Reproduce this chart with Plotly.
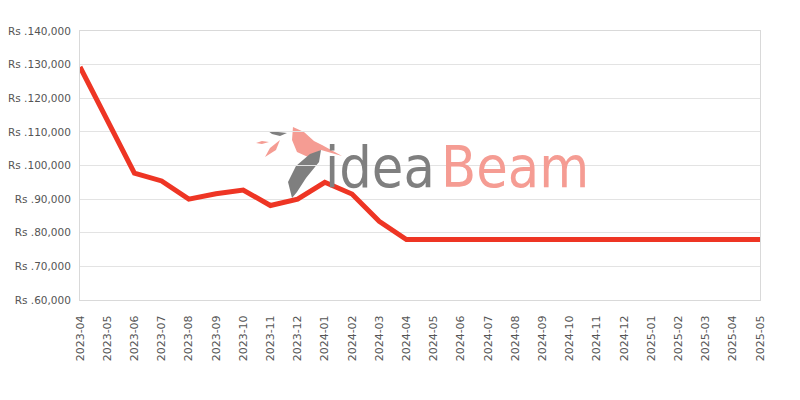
import plotly.graph_objects as go

months = ["2023-04", "2023-05", "2023-06", "2023-07", "2023-08", "2023-09", "2023-10",
          "2023-11", "2023-12", "2024-01", "2024-02", "2024-03", "2024-04", "2024-05",
          "2024-06", "2024-07", "2024-08", "2024-09", "2024-10", "2024-11", "2024-12",
          "2025-01", "2025-02", "2025-03", "2025-04", "2025-05"]
prices = [129300, 113500, 97700, 95400, 90000, 91600, 92700,
          88100, 90000, 95000, 91500, 83400, 78000, 78000,
          78000, 78000, 78000, 78000, 78000, 78000, 77700,
          78000, 78000, 78000, 78000, 78000]
y_ticks = [60000, 70000, 80000, 90000, 100000, 110000, 120000, 130000, 140000]
y_labels = ["Rs .{:,}".format(v) for v in y_ticks]

# page body has an 8px margin, so figure is offset by (8, 8)
OFF = 8
W, H = 800 - OFF, 400 - OFF
L, R, T, B = 80, 760, 31, 300


def px(x, y):
    return (x - L) / (R - L), (B - y) / (B - T)


def path(points):
    parts = []
    for i, (x, y) in enumerate(points):
        a, b = px(x, y)
        parts.append(("M" if i == 0 else "L") + f"{a:.4f},{b:.4f}")
    return " ".join(parts) + " Z"


fig = go.Figure()

salmon = "#F59C93"
gray = "#7f7f7f"
logo_shapes = [
    ([(293, 127), (304, 132), (314, 141), (322, 145), (342, 156), (321, 150),
      (308, 157), (297, 152), (292, 140)], salmon),
    ([(256, 143), (262, 141), (269, 142), (262, 144)], salmon),
    ([(265, 157), (270, 148), (280, 140), (276, 150)], salmon),
    ([(268, 131), (278, 132), (287, 133), (280, 136), (272, 134)], gray),
    ([(292, 198), (288, 182), (296, 166), (310, 154), (321, 150), (319, 162),
      (306, 178), (297, 192)], gray),
]
for pts, col in logo_shapes:
    fig.add_shape(type="path", path=path(pts), xref="paper", yref="paper",
                  fillcolor=col, line=dict(width=0), layer="below")

fig.add_trace(go.Scatter(x=months, y=prices, mode="lines",
                         line=dict(color="#EE3524", width=5),
                         hoverinfo="x+y"))

fig.update_layout(
    width=W, height=H,
    margin=dict(l=L - OFF, r=W - (R - OFF), t=T - OFF, b=H - (B - OFF)),
    paper_bgcolor="white", plot_bgcolor="rgba(0,0,0,0)",
    showlegend=False,
    font=dict(family="DejaVu Sans", size=11, color="#555555"),
    xaxis=dict(type="category", categoryorder="array", categoryarray=months,
               range=[0, len(months) - 1], tickangle=-90, automargin=False,
               showgrid=False, showline=True, linecolor="#d9d9d9", linewidth=1,
               mirror=True, ticks="", ticklabelstandoff=10,
               tickfont=dict(size=11, color="#555555")),
    yaxis=dict(range=[60000, 140000], tickvals=y_ticks, ticktext=y_labels,
               automargin=False, layer="below traces",
               showgrid=True, gridcolor="#e3e3e3", gridwidth=1,
               showline=True, linecolor="#d9d9d9", linewidth=1, mirror=True,
               zeroline=False, ticks="", ticklabelstandoff=6,
               tickfont=dict(size=10.5, color="#555555")),
)

cx, cy = px(437, 167)
fig.add_annotation(text="idea", xref="paper", yref="paper", x=cx, y=cy,
                   xanchor="right", yanchor="middle", showarrow=False,
                   font=dict(family="DejaVu Sans Condensed", size=57, color=gray))
cx2, _ = px(439, 167)
fig.add_annotation(text="Beam", xref="paper", yref="paper", x=cx2, y=cy,
                   xanchor="left", yanchor="middle", showarrow=False,
                   font=dict(family="DejaVu Sans Condensed", size=57, color=salmon))

fig.write_html("out.html")
